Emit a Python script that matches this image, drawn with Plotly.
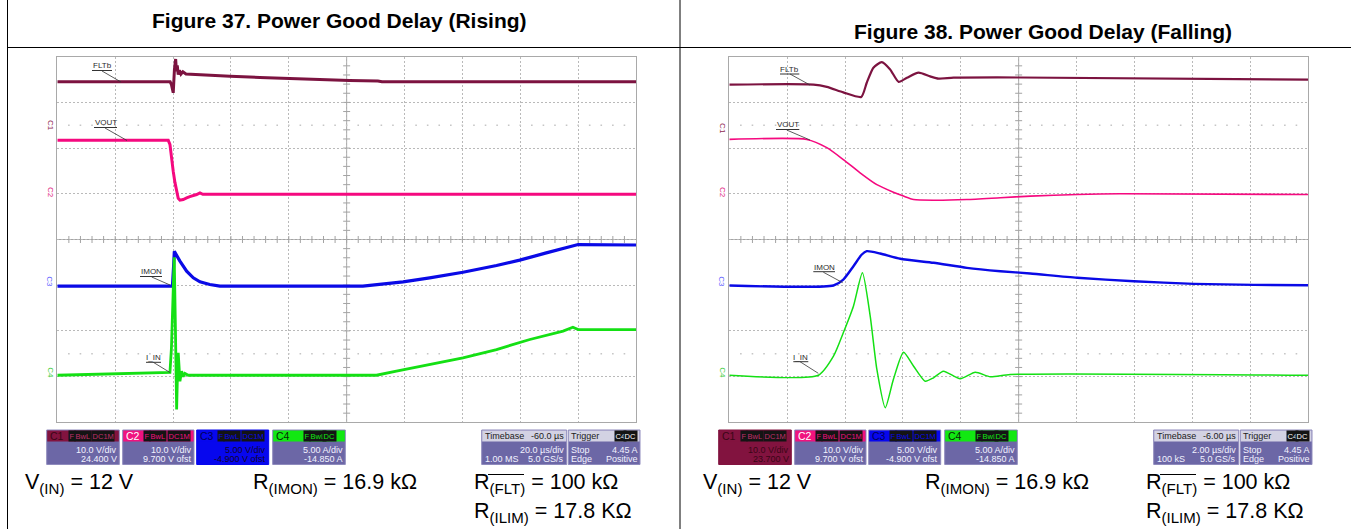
import plotly.graph_objects as go

W, H = 1351, 529
FONT = "Liberation Sans, Arial, Helvetica, sans-serif"

# ---------------- data ----------------
# Figure 37: Power Good Delay (Rising) -- time in µs, FLTb/VOUT/IMON in V, I_IN in A
rise_time_fltb = [-40, -1.0, -0.55, 0.07, 0.48, 0.9, 1.17, 1.45, 1.79, 2.2, 2.73, 3.4, 4.45, 9.3, 19.7, 30, 40.4, 50.7, 61, 70.8, 72.2, 160]
rise_fltb = [10.1, 10.1, 9.5, 7.7, 12.8, 15.1, 12.4, 13.7, 11.7, 12.6, 11.8, 12.3, 11.8, 11.6, 11.3, 11.05, 10.8, 10.5, 10.4, 10.3, 10.1, 10.1]

rise_time_vout = [-40, -1.66, -1.07, -0.55, 0.07, 0.65, 1.24, 1.79, 2.38, 3.52, 4.7, 5.8, 8.15, 9.3, 10.3, 160]
rise_vout = [12.0, 12.0, 11.1, 7.8, 5.2, 2.8, 0.6, -0.7, -1.1, -0.95, -0.6, -0.3, 0.15, 0.5, 0.2, 0.2]

rise_time_imon = [-40, -0.2, 0.2, 0.45, 2.38, 4.7, 7.0, 9.3, 12.7, 16.2, 65.6, 73.8, 79.5, 88.7, 100.2, 111.8, 119.8, 129, 137.1, 140, 160]
rise_imon = [-0.2, -0.2, 2.0, 3.6, 2.53, 1.43, 0.71, 0.27, -0.02, -0.2, -0.2, 0.05, 0.27, 0.71, 1.32, 2.06, 2.64, 3.44, 4.1, 4.35, 4.3]

rise_time_iin = [-40, -1.07, -0.55, -0.04, 0.41, 0.83, 1.24, 1.52, 1.79, 2.38, 2.97, 3.52, 4.1, 5.25, 70.3, 77.2, 88.7, 100.2, 111.8, 123.3, 134.8, 138.2, 140, 160]
rise_iin = [0, 0.3, 3, 8, 12.9, 5, -3.75, 0, 2.45, -0.65, 0.45, -0.15, 0.2, 0, 0, 0.44, 1.17, 1.9, 2.81, 3.91, 4.82, 5.25, 5.0, 5.0]

# Figure 38: Power Good Delay (Falling)
fall_time_fltb = [-4, -1.09, -0.63, -0.06, 0.56, 0.75, 0.98, 1.27, 1.56, 1.85, 2.14, 2.54, 2.94, 3.23, 3.75, 6.06, 16]
fall_fltb = [10.2, 10.2, 9.7, 8.5, 7.5, 10.6, 13.9, 15.1, 13.5, 10.8, 11.7, 12.8, 12.0, 11.5, 11.7, 11.75, 11.3]

fall_time_vout = [-4, -1.32, -0.63, -0.06, 0.52, 1.1, 1.67, 2.02, 2.37, 3.06, 4.21, 5.37, 6.4, 8.02, 9.5, 16]
fall_vout = [12.2, 12.2, 10.4, 7.8, 4.9, 2.3, 0.65, -0.2, -0.95, -1.1, -0.95, -0.55, -0.2, 0.15, 0.3, 0.15]

fall_time_imon = [-4, -0.4, -0.06, 0.29, 0.58, 0.75, 1.21, 1.91, 3.06, 4.21, 5.37, 6.4, 8.02, 9.98, 12.05, 14.13, 16]
fall_imon = [-0.13, -0.13, 0.52, 1.98, 3.26, 3.62, 3.37, 2.79, 2.35, 1.8, 1.43, 1.18, 0.71, 0.34, 0.05, -0.06, -0.1]

fall_time_iin = [-4, -0.92, -0.4, -0.06, 0.29, 0.6, 0.87, 1.1, 1.39, 1.67, 2.02, 2.37, 2.77, 3.06, 3.4, 3.98, 4.5, 5.02, 5.71, 16]
fall_iin = [0, 0, 2.08, 4.64, 7.55, 11.21, 6.46, 0.63, -3.56, -0.47, 2.52, 0.99, -0.65, -0.28, 0.44, -0.39, 0.33, -0.17, 0.08, 0]

# channel settings: per-division scale and offset (C1..C4)
channel_names = ["FLTb", "VOUT", "IMON", "I_IN"]
channel_scale = [10.0, 10.0, 5.0, 5.0]
rise_offset = [24.4, 9.7, -4.9, -14.85]
fall_offset = [23.7, 9.7, -4.9, -14.85]
trigger_level = 4.45

rise_info = [("10.0 V/div", "24.400 V"), ("10.0 V/div", "9.700 V ofst"),
             ("5.00 V/div", "-4.900 V ofst"), ("5.00 A/div", "-14.850 A")]
fall_info = [("10.0 V/div", "23.700 V"), ("10.0 V/div", "9.700 V ofst"),
             ("5.00 V/div", "-4.900 V ofst"), ("5.00 A/div", "-14.850 A")]
rise_timebase = ("-60.0 µs", "20.0 µs/div", "1.00 MS", "5.0 GS/s")
fall_timebase = ("-6.00 µs", "2.00 µs/div", "100 kS", "5.0 GS/s")
rise_xrange = [-40, 160]
fall_xrange = [-4, 16]

titles = ["Figure 37. Power Good Delay (Rising)", "Figure 38. Power Good Delay (Falling)"]
conditions = ["V<sub>(IN)</sub> = 12 V", "R<sub>(IMON)</sub> = 16.9 kΩ",
              "R<sub>(FLT)</sub> = 100 kΩ", "R<sub>(ILIM)</sub> = 17.8 KΩ"]

# ---------------- styling ----------------
trace_colors = ["#7c1340", "#f5097f", "#0a0ae6", "#14e014"]
marker_colors = ["#8e1e50", "#e0197d", "#5c5cff", "#40cc40"]
head_colors = ["#82133f", "#f0127f", "#0707ee", "#12e812"]
BODY = "#6c67a6"
EDGE = "#8f8bbd"

GX0, GX1, GY0, GY1 = 57.3, 636.0, 56.7, 422.3
DX = 672

fig = go.Figure()
shapes, annos = [], []


def X(x):
    return x / W


def Y(y):
    return 1 - y / H


def line_px(x0, y0, x1, y1, color, width=1.0):
    shapes.append(dict(type="line", xref="paper", yref="paper", x0=X(x0), y0=Y(y0),
                       x1=X(x1), y1=Y(y1), line=dict(color=color, width=width), layer="above"))


def rect_px(x0, y0, x1, y1, fill, edge=None, width=0):
    shapes.append(dict(type="rect", xref="paper", yref="paper", x0=X(x0), y0=Y(y1),
                       x1=X(x1), y1=Y(y0), fillcolor=fill,
                       line=dict(color=edge or fill, width=width), layer="above"))


def text_px(x, y, s, size, color, xanchor="left", yanchor="middle", bg=None, pad=0, angle=0):
    a = dict(xref="paper", yref="paper", x=X(x), y=Y(y), text=s, showarrow=False,
             xanchor=xanchor, yanchor=yanchor, borderpad=pad, textangle=angle,
             font=dict(family=FONT, size=size, color=color))
    if bg:
        a["bgcolor"] = bg
    annos.append(a)


def scope(n, dx, xr, times, values, offsets, widths, lshape, info, timebase, labels, selected):
    xa, ya = ("x", "y") if n == 1 else (f"x{n}", f"y{n}")
    axis_x = dict(domain=[X(GX0 + dx), X(GX1 + dx)], range=xr, anchor=ya,
                  tick0=xr[0], dtick=(xr[1] - xr[0]) / 10, showgrid=True, gridcolor="#b9b9b9",
                  griddash="2px,2px", gridwidth=1, showticklabels=False, ticks="",
                  zeroline=False, showline=True, mirror=True, linecolor="#a9a9a9", linewidth=1,
                  fixedrange=True)
    axis_y = dict(domain=[Y(GY1), Y(GY0)], range=[-4, 4], anchor=xa, tick0=0, dtick=1,
                  showgrid=True, gridcolor="#b9b9b9", griddash="2px,2px", gridwidth=1,
                  showticklabels=False, ticks="", zeroline=False, showline=True, mirror=True,
                  linecolor="#a9a9a9", linewidth=1, fixedrange=True)
    fig.layout["xaxis" if n == 1 else f"xaxis{n}"] = axis_x
    fig.layout["yaxis" if n == 1 else f"yaxis{n}"] = axis_y

    div = (xr[1] - xr[0]) / 10
    mid = (xr[0] + xr[1]) / 2
    # solid centre cross
    shapes.append(dict(type="line", xref=xa, yref=ya, x0=xr[0], x1=xr[1], y0=0, y1=0,
                       line=dict(color="#a3a3a3", width=1), layer="below"))
    shapes.append(dict(type="line", xref=xa, yref=ya, x0=mid, x1=mid, y0=-4, y1=4,
                       line=dict(color="#a3a3a3", width=1), layer="below"))
    # minor ticks on the centre cross
    tx = [xr[0] + k * div / 5 for k in range(1, 50)]
    fig.add_trace(go.Scatter(x=tx, y=[0] * len(tx), mode="markers", xaxis=xa, yaxis=ya,
                             marker=dict(symbol="line-ns", size=5, line=dict(color="#a3a3a3", width=1)),
                             hoverinfo="skip"))
    ty = [-4 + k * 0.2 for k in range(1, 40)]
    fig.add_trace(go.Scatter(x=[mid] * len(ty), y=ty, mode="markers", xaxis=xa, yaxis=ya,
                             marker=dict(symbol="line-ew", size=5, line=dict(color="#a3a3a3", width=1)),
                             hoverinfo="skip"))
    # faint dotted rows
    for yy in (2.5, -2.5):
        fig.add_trace(go.Scatter(x=tx, y=[yy] * len(tx), mode="markers", xaxis=xa, yaxis=ya,
                                 marker=dict(symbol="square", size=1.6, color="#c6c6c6"),
                                 hoverinfo="skip"))
    # waveforms
    for i in range(4):
        yv = [(v + offsets[i]) / channel_scale[i] for v in values[i]]
        fig.add_trace(go.Scatter(x=times[i], y=yv, mode="lines", xaxis=xa, yaxis=ya,
                                 line=dict(color=trace_colors[i], width=widths[i], shape=lshape,
                                           smoothing=0.6 if lshape == "spline" else None),
                                 hoverinfo="skip"))
    # trigger position and level markers
    fig.add_trace(go.Scatter(x=[0], y=[-4.08], mode="markers", xaxis=xa, yaxis=ya, cliponaxis=False,
                             marker=dict(symbol="triangle-up", size=8, color="#22dd22"), hoverinfo="skip"))
    fig.add_trace(go.Scatter(x=[xr[1] + div * 0.08], y=[(trigger_level + offsets[3]) / channel_scale[3]],
                             mode="markers", xaxis=xa, yaxis=ya, cliponaxis=False,
                             marker=dict(symbol="triangle-left", size=7, color="#22dd22"), hoverinfo="skip"))
    # channel ground markers
    for i in range(4):
        annos.append(dict(xref="paper", yref=ya, x=X(GX0 + dx - 7.5), y=offsets[i] / channel_scale[i] + 0.05,
                          text=f"C{i + 1}", showarrow=False, textangle=90, xanchor="center",
                          yanchor="middle", font=dict(family=FONT, size=8, color=marker_colors[i])))
    # trace labels with underline and leader
    for (s, cx, cy, u0, u1, uy, l0x, l0y, l1x, l1y) in labels:
        text_px(cx, cy, s, 8, "#2c2c2c", xanchor="center")
        line_px(u0, uy, u1, uy, "#333333", 1)
        line_px(l0x, l0y, l1x, l1y, "#333333", 0.8)

    # channel info boxes
    bx = [(46.7, 119.3), (122.7, 194.0), (196.7, 268.7), (272.7, 345.3)]
    tags_all = [[("F", 21), ("BwL", 27), ("DC1M", 44)], [("F", 20), ("BwL", 26), ("DC1M", 44)],
                [("F", 20), ("BwL", 26), ("DC1M", 44)], [("F", 30), ("BwL", 36), ("DC", 49.5)]]
    label_cols = ["#3a0616", "#ffffff", "#00005a", "#062806"]
    for i in range(4):
        x0, x1 = bx[i][0] + dx, bx[i][1] + dx
        sel = (i == selected)
        body = head_colors[i] if sel else BODY
        rect_px(x0, 430, x1, 464.5, body, EDGE if not sel else head_colors[i], 1)
        rect_px(x0 + 0.5, 430.5, x1 - 0.5, 441.5, head_colors[i])
        text_px(x0 + 2, 436.3, f"C{i + 1}", 10.5, label_cols[i])
        for s, rx in tags_all[i]:
            text_px(x0 + rx, 436.2, s, 7.5, head_colors[i] if i != 0 else "#c0306a", bg="#141414", pad=0.6)
        tcol = "#12052a" if sel else "#f2f2ff"
        if sel and i == 0:
            tcol = "#3a0616"
        text_px(x1 - 1.5, 449.6, info[i][0], 9, tcol, xanchor="right")
        text_px(x1 - 1.5, 458.8, info[i][1], 9, tcol, xanchor="right")

    # timebase box
    x0, x1 = 481.7 + dx, 566.7 + dx
    rect_px(x0, 430, x1, 464.5, BODY, EDGE, 1)
    rect_px(x0 + 0.5, 430.5, x1 - 0.5, 441.5, "#d3d2e3")
    text_px(x0 + 2, 436.3, "Timebase", 9, "#1c1c1c")
    text_px(x1 - 1.5, 436.3, timebase[0], 9, "#1c1c1c", xanchor="right")
    text_px(x1 - 1.5, 449.6, timebase[1], 9, "#f2f2ff", xanchor="right")
    text_px(x0 + 2, 458.8, timebase[2], 9, "#f2f2ff")
    text_px(x1 - 1.5, 458.8, timebase[3], 9, "#f2f2ff", xanchor="right")
    # trigger box
    x0, x1 = 568.3 + dx, 640.0 + dx
    rect_px(x0, 430, x1, 464.5, BODY, EDGE, 1)
    rect_px(x0 + 0.5, 430.5, x1 - 0.5, 441.5, "#d3d2e3")
    text_px(x0 + 2, 436.3, "Trigger", 9, "#1c1c1c")
    text_px(x1 - 13, 436.2, "C4", 7.5, "#ffffff", xanchor="right", bg="#141414", pad=0.6)
    text_px(x1 - 2, 436.2, "DC", 7.5, "#ffffff", xanchor="right", bg="#141414", pad=0.6)
    text_px(x0 + 2, 449.6, "Stop", 9, "#f2f2ff")
    text_px(x1 - 1.5, 449.6, f"{trigger_level:.2f} A", 9, "#f2f2ff", xanchor="right")
    text_px(x0 + 2, 458.8, "Edge", 9, "#f2f2ff")
    text_px(x1 - 1.5, 458.8, "Positive", 9, "#f2f2ff", xanchor="right")


rise_labels = [("FLTb", 102, 66, 92, 112, 70.5, 102, 71, 121, 82),
               ("VOUT", 105.5, 122.5, 94, 117, 127.5, 105, 128, 127, 140.5),
               ("IMON", 151, 271.5, 140, 162, 276.5, 151.7, 277, 170, 285),
               ("I_IN", 153.3, 357.5, 146, 161, 362.3, 153.3, 362.3, 170, 372.5)]
fall_labels = [("FLTb", 789.7, 69.5, 780, 799.3, 74, 790, 74, 810, 85),
               ("VOUT", 787.7, 124.8, 776, 799.3, 129.5, 786.7, 130, 810, 140),
               ("IMON", 824, 267.2, 813.3, 835, 271.7, 823.3, 272.2, 842.7, 282.7),
               ("I_IN", 800.8, 357, 793.3, 808.3, 361.7, 800, 361.7, 818.3, 373.3)]

scope(1, 0, rise_xrange,
      [rise_time_fltb, rise_time_vout, rise_time_imon, rise_time_iin],
      [rise_fltb, rise_vout, rise_imon, rise_iin], rise_offset,
      [3.0, 3.0, 3.2, 2.8], "linear", rise_info, rise_timebase, rise_labels, selected=2)
scope(2, DX, fall_xrange,
      [fall_time_fltb, fall_time_vout, fall_time_imon, fall_time_iin],
      [fall_fltb, fall_vout, fall_imon, fall_iin], fall_offset,
      [2.2, 1.6, 2.4, 1.5], "spline", fall_info, fall_timebase, fall_labels, selected=0)

# ---------------- page frame & text ----------------
line_px(7.5, 0, 7.5, H, "#000000", 1)
line_px(680, 0, 680, H, "#000000", 1)
line_px(7.5, 47.5, W, 47.5, "#000000", 1)

text_px(339, 20, f"<b>{titles[0]}</b>", 21, "#000000", xanchor="center")
text_px(1043, 31, f"<b>{titles[1]}</b>", 21, "#000000", xanchor="center")

CS = 21.5
for dx in (0, 678):
    text_px(24 + dx, 483, conditions[0], CS, "#000000")
for dx in (0, 672):
    text_px(252 + dx, 483, conditions[1], CS, "#000000")
    text_px(473 + dx, 483, conditions[2], CS, "#000000")
    line_px(488 + dx, 474.5, 524 + dx, 474.5, "#000000", 1)
    text_px(473 + dx, 512, conditions[3], CS, "#000000")

fig.update_layout(width=W, height=H, autosize=False, margin=dict(l=0, r=0, t=0, b=0, pad=0),
                  paper_bgcolor="#ffffff", plot_bgcolor="#ffffff", showlegend=False,
                  hovermode=False, shapes=shapes, annotations=annos)

fig.write_html("out.html", config={"displayModeBar": False, "staticPlot": True},
               post_script="document.body.style.margin='0';document.body.style.overflow='hidden';")
